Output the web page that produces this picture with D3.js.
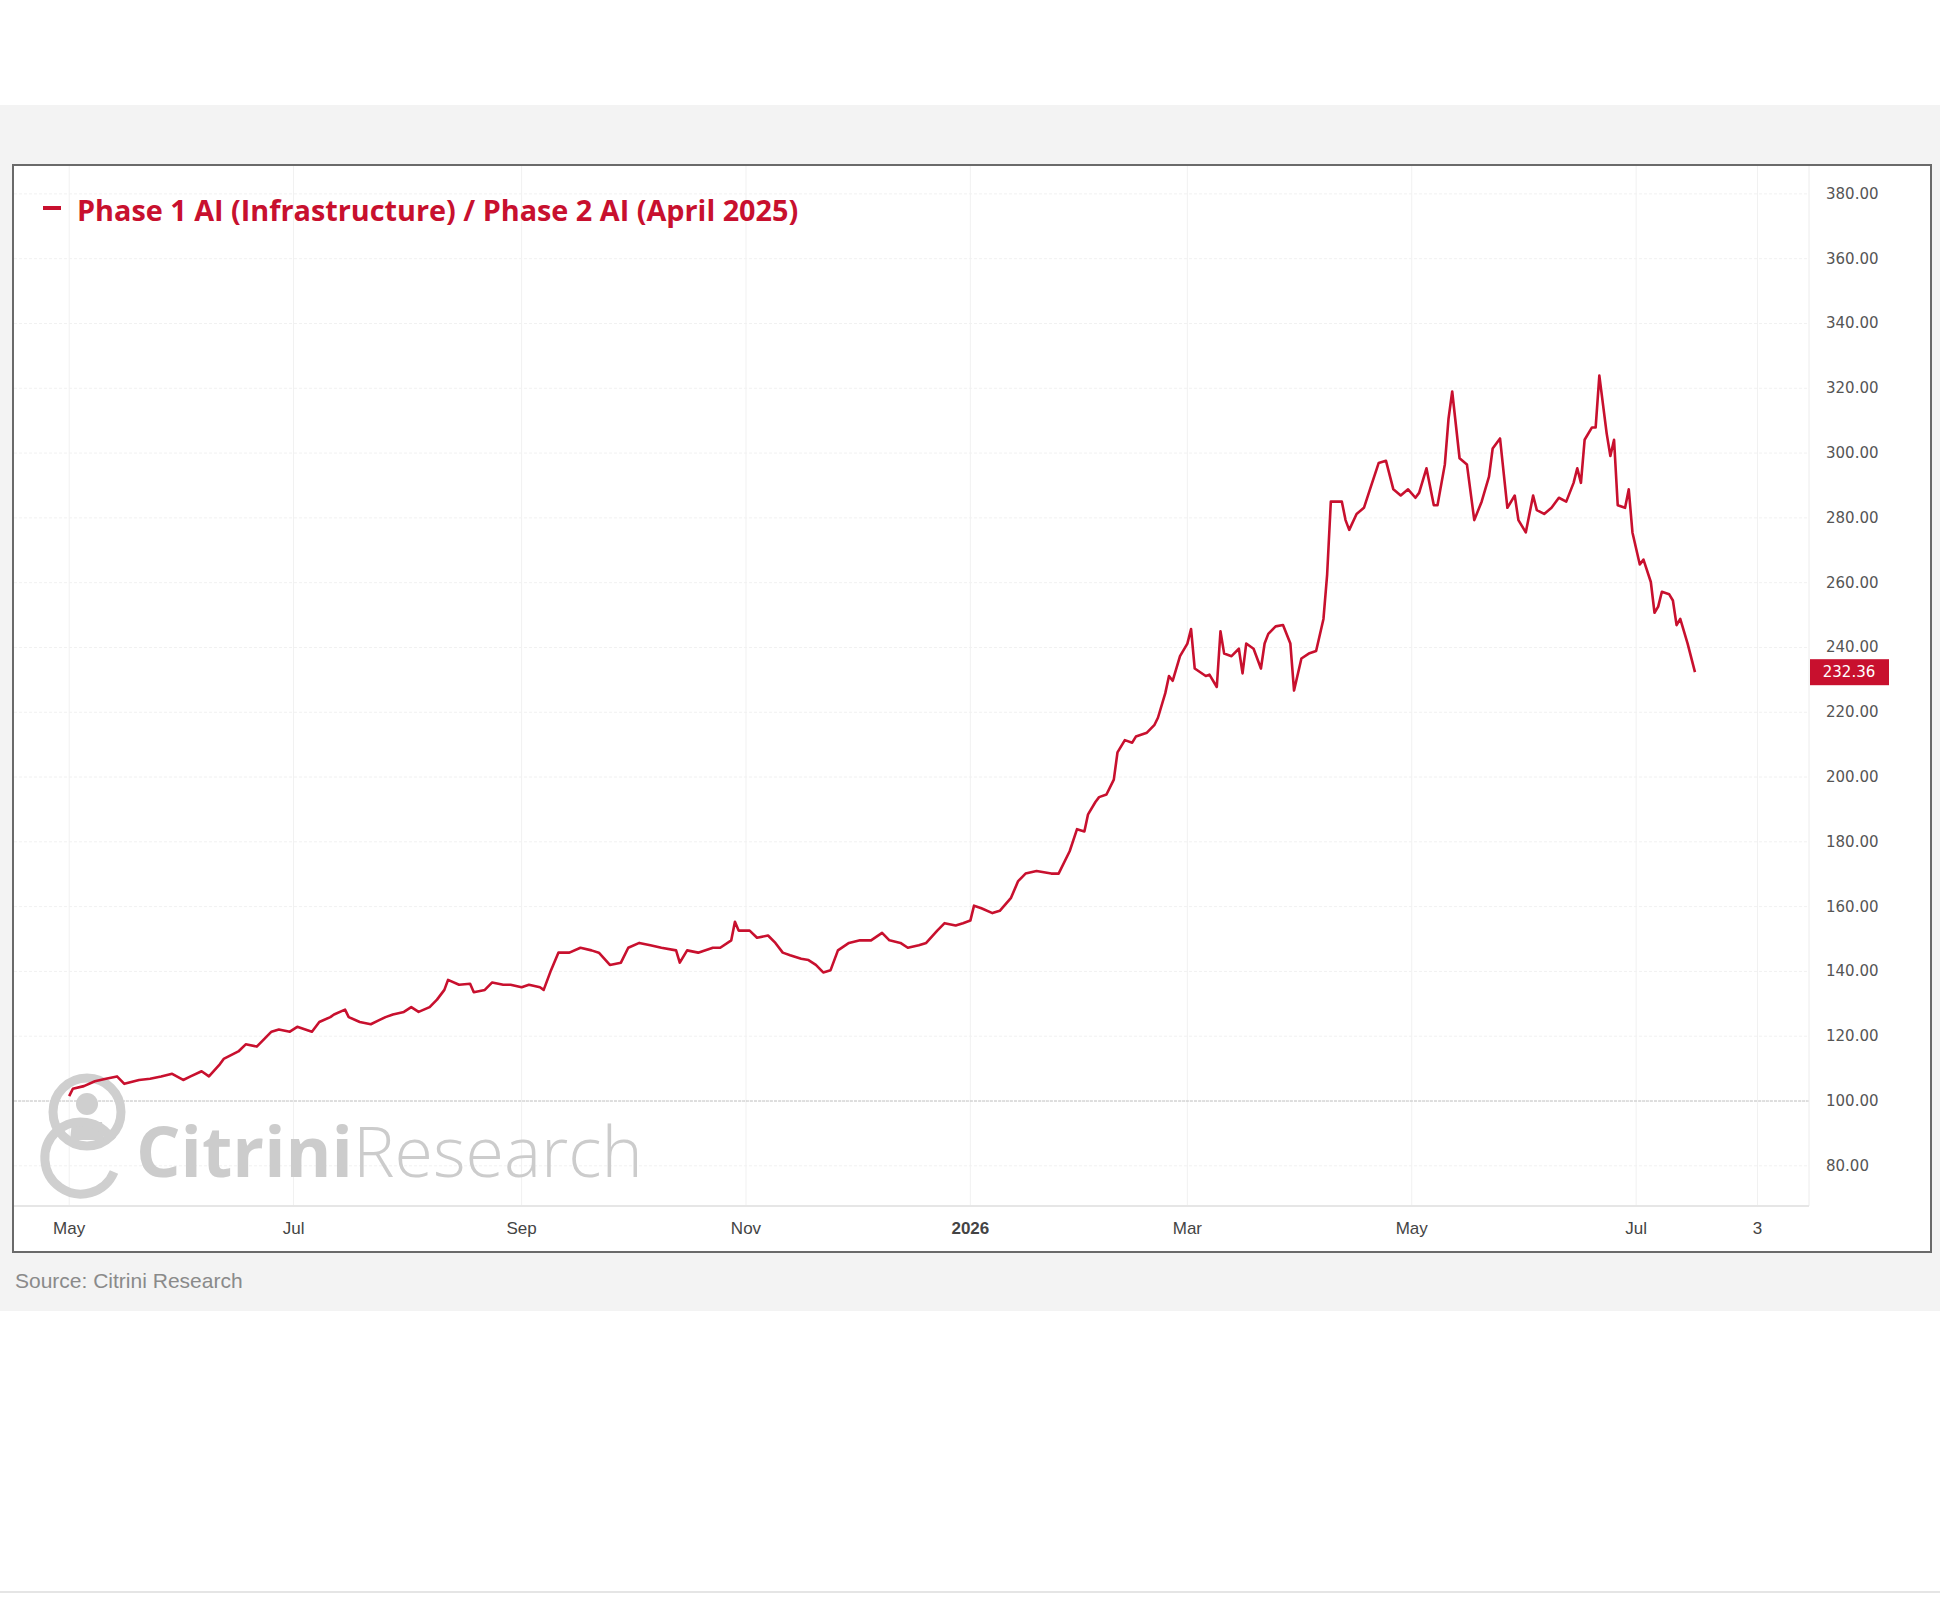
<!DOCTYPE html>
<html><head><meta charset="utf-8">
<script src="https://cdn.jsdelivr.net/npm/d3@7"></script>
<style>body{margin:0;background:#fff}</style></head>
<body><svg id="c" width="1940" height="1600"></svg>
<script>
const startDate = "2025-05-01";
const dayOffsets = [0,1,4,7,10,13,15,19,22,25,28,31,33,36,38,41,42,46,48,51,53,55,57,60,62,66,68,71,72,75,76,79,82,84,86,88,91,93,95,98,100,102,103,106,109,110,113,115,118,120,123,125,128,129,131,133,136,139,142,144,147,150,152,155,158,161,165,166,168,171,175,177,180,181,182,185,187,190,192,194,196,199,201,203,205,207,209,212,215,218,221,223,226,228,231,233,236,238,241,243,245,246,248,251,253,256,258,260,263,267,269,272,274,276,277,279,280,282,284,285,287,289,290,293,295,296,298,299,300,302,304,305,306,309,310,312,313,314,316,318,319,320,322,324,325,326,328,330,332,333,335,337,339,341,342,343,346,347,348,350,352,354,356,358,360,362,364,366,367,369,371,372,374,375,376,378,380,382,384,386,387,389,391,393,394,396,398,399,401,403,405,407,409,410,411,412,414,415,416,418,419,420,421,423,424,425,427,428,430,431,432,433,435,436,437,438,440,442];
const values = [101.5,103.8,104.6,106.1,106.9,107.6,105.3,106.5,106.9,107.6,108.4,106.5,107.6,109.2,107.6,111.4,113.0,115.3,117.5,116.8,119.1,121.4,122.1,121.4,122.9,121.4,124.4,125.9,126.7,128.2,125.9,124.4,123.7,124.8,125.9,126.7,127.5,129.0,127.5,129.0,131.3,134.3,137.4,135.9,136.2,133.6,134.3,136.6,135.9,135.9,135.1,135.9,135.1,134.3,140.4,145.8,145.8,147.3,146.5,145.8,142.0,142.7,147.3,148.8,148.1,147.3,146.5,142.7,146.5,145.8,147.3,147.3,149.6,155.3,152.6,152.6,150.4,151.1,148.8,145.8,145.0,143.9,143.5,142.0,139.7,140.4,146.5,148.8,149.6,149.6,151.9,149.6,148.8,147.3,148.1,148.8,152.6,154.9,154.2,154.9,155.7,160.3,159.5,158.0,158.7,162.6,167.9,170.2,171.0,170.2,170.2,177.1,183.9,183.2,188.5,192.3,193.8,194.6,199.2,207.6,211.4,210.6,212.5,213.7,216.0,218.3,225.9,231.2,229.7,237.3,241.2,245.7,233.5,231.2,231.6,227.8,245.0,238.1,237.3,239.6,232.0,241.2,239.6,233.5,241.2,244.2,246.5,246.9,241.2,226.7,236.6,238.1,238.9,248.8,262.5,285.0,285.0,279.3,276.3,281.2,283.1,290.0,296.9,297.6,288.8,286.9,288.8,286.2,287.7,295.3,283.9,283.9,296.5,310.6,319.0,298.4,296.5,279.3,285.0,292.7,301.4,304.5,283.1,286.9,279.3,275.5,286.9,282.4,281.2,283.1,286.2,285.0,290.8,295.3,290.8,304.1,307.9,307.9,323.9,306.0,299.1,304.1,283.9,283.1,288.8,275.5,265.6,267.1,260.2,250.7,252.6,257.2,256.4,254.5,246.9,248.8,241.2,232.36];
const yTicks = [80,100,120,140,160,180,200,220,240,260,280,300,320,340,360,380];
const xTickDates = ["2025-05-01","2025-07-01","2025-09-01","2025-11-01","2026-01-01","2026-03-01","2026-05-01","2026-07-01","2026-08-03"];
const xTickLabels = ["May","Jul","Sep","Nov","2026","Mar","May","Jul","3"];
const seriesName = "Phase 1 AI (Infrastructure) / Phase 2 AI (April 2025)";
const RED = "#c8102e";

const svg = d3.select("#c");
const parse = d3.timeParse("%Y-%m-%d");
const t0 = parse(startDate);
const data = dayOffsets.map((d,i)=>({date:d3.timeDay.offset(t0,d), v:values[i]}));

svg.append("rect").attr("x",0).attr("y",105).attr("width",1940).attr("height",1206).attr("fill","#f3f3f3");
svg.append("rect").attr("x",13).attr("y",165).attr("width",1918).attr("height",1087).attr("fill","#fff").attr("stroke","#6a6a6a").attr("stroke-width",2);

const L=14, R=1809, T=166, B=1206;
const x = d3.scaleTime().domain([d3.timeDay.offset(t0,-14.7), d3.timeDay.offset(t0,473)]).range([L,R]);
const y = d3.scaleLinear().domain([67.6,388.6]).range([B,T]);

const g = svg.append("g");
g.selectAll(".vg").data(xTickDates).join("line").attr("x1",d=>x(parse(d))).attr("x2",d=>x(parse(d))).attr("y1",T).attr("y2",B).attr("stroke","#f1f1f1");
g.selectAll(".hg").data(yTicks).join("line").attr("x1",L).attr("x2",R).attr("y1",d=>y(d)).attr("y2",d=>y(d)).attr("stroke","#f1f1f1").attr("stroke-dasharray","3,2");
g.append("line").attr("x1",L).attr("x2",R).attr("y1",y(100)).attr("y2",y(100)).attr("stroke","#c4c4c4").attr("stroke-dasharray","3,1");
g.append("line").attr("x1",R).attr("x2",R).attr("y1",T).attr("y2",B).attr("stroke","#ececec");
g.append("line").attr("x1",L).attr("x2",R).attr("y1",B).attr("y2",B).attr("stroke","#e6e6e6").attr("stroke-width",2);

// watermark
const wm = svg.append("g").attr("fill","none").attr("stroke","#cfcfcf").attr("stroke-width",9);
wm.append("circle").attr("cx",87).attr("cy",1112).attr("r",34);
wm.append("circle").attr("cx",87).attr("cy",1104).attr("r",11).attr("fill","#cfcfcf").attr("stroke","none");
wm.append("path").attr("d","M70,1140 L72,1122 L102,1122 L104,1140").attr("fill","#cfcfcf").attr("stroke","none");
wm.append("path").attr("d","M112,1140 A36,36 0 1 0 114,1172");
svg.append("text").attr("x",136).attr("y",1177).attr("font-family","Open Sans, sans-serif").attr("font-size",70).attr("fill","#cccccc")
  .call(t=>{t.append("tspan").attr("font-weight","bold").text("Citrini");t.append("tspan").attr("font-weight","300").text("Research");});

svg.append("path").datum(data).attr("fill","none").attr("stroke",RED).attr("stroke-width",2.6).attr("stroke-linejoin","round")
  .attr("d",d3.line().x(d=>x(d.date)).y(d=>y(d.v)));

svg.selectAll(".yl").data(yTicks).join("text").attr("x",1826).attr("y",d=>y(d)+5).attr("font-family","DejaVu Sans, sans-serif").attr("font-size",15).attr("fill","#555").text(d=>d.toFixed(2));
const last = data[data.length-1];
svg.append("rect").attr("x",1810).attr("y",y(last.v)-13).attr("width",79).attr("height",26).attr("fill",RED);
svg.append("text").attr("x",1849).attr("y",y(last.v)+5).attr("text-anchor","middle").attr("font-family","DejaVu Sans, sans-serif").attr("font-size",15).attr("fill","#fff").text(last.v.toFixed(2));

svg.selectAll(".xl").data(xTickDates).join("text").attr("x",d=>x(parse(d))).attr("y",1234).attr("text-anchor","middle")
  .attr("font-family","Liberation Sans Narrow, Liberation Sans, sans-serif").attr("font-size",17).attr("fill","#444")
  .attr("font-weight",(d,i)=>xTickLabels[i]==="2026"?"bold":"normal").text((d,i)=>xTickLabels[i]);

svg.append("line").attr("x1",43).attr("x2",61).attr("y1",208).attr("y2",208).attr("stroke",RED).attr("stroke-width",4);
svg.append("text").attr("x",77).attr("y",221).attr("font-family","Liberation Sans Narrow, Open Sans, sans-serif").attr("font-weight","bold").attr("font-size",28.8).attr("fill",RED).text(seriesName);

svg.append("text").attr("x",15).attr("y",1288).attr("font-family","Liberation Sans Narrow, Liberation Sans, sans-serif").attr("font-size",21).attr("fill","#8a8a8a").text("Source: Citrini Research");
svg.append("line").attr("x1",0).attr("x2",1940).attr("y1",1592).attr("y2",1592).attr("stroke","#e5e5e5").attr("stroke-width",2);
</script></body></html>
